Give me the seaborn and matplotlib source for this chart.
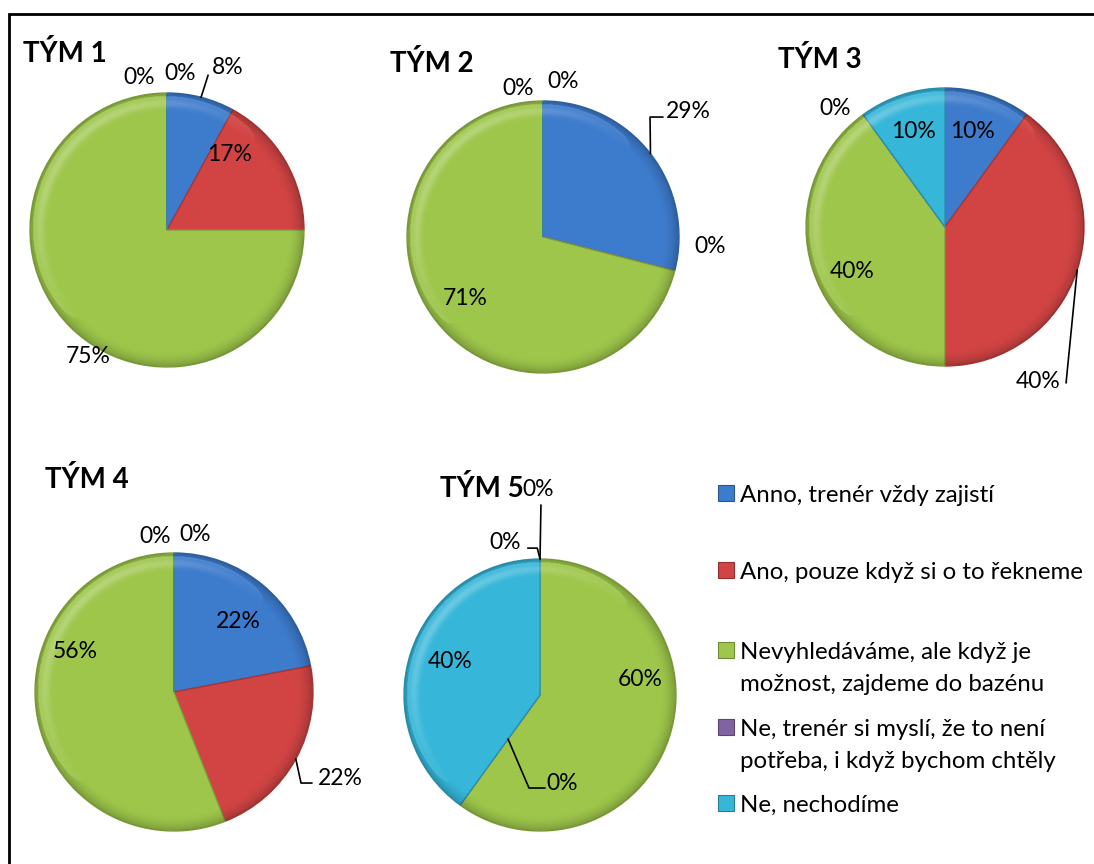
import numpy as np
import matplotlib
matplotlib.use("Agg")
import matplotlib.pyplot as plt
from matplotlib.patches import Rectangle, Circle
import matplotlib.colors as mcolors
import seaborn as sns

# ---- data -------------------------------------------------------------
teams = ["TÝM 1", "TÝM 2", "TÝM 3", "TÝM 4", "TÝM 5"]
categories = [
    "Anno, trenér vždy zajistí",
    "Ano, pouze když si o to řekneme",
    "Nevyhledáváme, ale když je\nmožnost, zajdeme do bazénu",
    "Ne, trenér si myslí, že to není\npotřeba, i když bychom chtěly",
    "Ne, nechodíme",
]
tym1 = [8, 17, 75, 0, 0]
tym2 = [29, 0, 71, 0, 0]
tym3 = [10, 40, 40, 0, 10]
tym4 = [22, 22, 56, 0, 0]
tym5 = [0, 0, 60, 0, 40]
team_values = [tym1, tym2, tym3, tym4, tym5]

# ---- style ------------------------------------------------------------
sns.set_theme(style="white")
plt.rcParams["font.family"] = ["Lato", "DejaVu Sans"]
palette = sns.color_palette(["#3d7bcc", "#d24444", "#9ec64b", "#8064a2", "#36b6d9"])

W, H, DPI = 1094, 864, 100
fig = plt.figure(figsize=(W / DPI, H / DPI), dpi=DPI)
fig.patch.set_facecolor("white")

LABEL_PT = 16.5
LEGEND_PT = 17.3
TITLE_PT = 20
CAP = 0.7165  # cap height of Lato relative to the em


def px_to_fig(x, y):
    return x / W, 1 - y / H


def fig_text(x, y_center, s, size, **kw):
    """Place text so that its capital letters are centred on y_center (pixels)."""
    cap_px = CAP * size * DPI / 72
    fx, fy = px_to_fig(x, y_center + cap_px / 2)
    fig.text(fx, fy, s, fontsize=size, va="baseline", **kw)


def darker(c, f=0.75):
    r, g, b = mcolors.to_rgb(c)
    return (r * f, g * f, b * f)


# soft bevel: darker towards the rim, lighter just inside it on the upper left
_g = np.linspace(-1, 1, 400)
_X, _Y = np.meshgrid(_g, _g)
_R = np.hypot(_X, _Y)
_rim = np.clip((_R - 0.88) / 0.12, 0, 1)
_light = np.clip(-(_X - _Y) / np.sqrt(2), 0, 1) * np.exp(-((_R - 0.93) / 0.035) ** 2)
bevel = np.zeros((400, 400, 4))
bevel[..., :3] = np.where(_light[..., None] > 0.15 * _rim[..., None] ** 2, 1.0, 0.0)
bevel[..., 3] = np.maximum(0.22 * _rim ** 2 * (1 - _light), 0.28 * _light)
bevel[_R > 1] = 0

# ---- layout -----------------------------------------------------------
# pie centre (x, y from top) and radius, in pixels
pie_geom = [(167, 230, 137), (543, 237, 136), (945, 227, 139),
            (174, 692, 139), (540, 695, 136)]
title_pos = [(23, 52), (390, 62), (778, 58), (45, 478), (440, 487)]
# label positions in units of pie radius, per wedge
label_pos = [
    [(0.445, 1.197), (0.46, 0.562), (-0.577, -0.912), (0.095, 1.153), (-0.204, 1.124)],
    [(1.066, 0.934), (1.228, -0.059), (-0.574, -0.441), (0.147, 1.154), (-0.184, 1.103)],
    [(0.201, 0.698), (0.669, -1.101), (-0.669, -0.309), (-0.791, 0.863), (-0.230, 0.698)],
    [(0.460, 0.518), (1.194, -0.612), (-0.712, 0.302), (0.151, 1.144), (-0.137, 1.129)],
    [(-0.015, 1.522), (-0.257, 1.132), (0.735, 0.125), (0.162, -0.640), (-0.662, 0.257)],
]
# leader lines: wedge index -> (start radius fraction, bend points)
leaders = [
    {0: (1.0, [(0.30, 1.13)])},
    {0: (1.0, [(0.787, 0.882), (0.882, 0.882)])},
    {1: (1.0, [(0.871, -1.122)])},
    {1: (1.0, [(0.914, -0.655), (0.993, -0.655)])},
    {0: (1.0, [(0.007, 1.397)]),
     1: (1.0, [(-0.02, 1.08), (-0.09, 1.08)]),
     3: (0.4, [(-0.081, -0.684), (0.037, -0.684)])},
]

LIM = 1.7
for k, values in enumerate(team_values):
    cx, cy, r = pie_geom[k]
    half = r * LIM
    ax = fig.add_axes([(cx - half) / W, 1 - (cy + half) / H, 2 * half / W, 2 * half / H])
    ax.axis("off")
    ax.patch.set_visible(False)

    wedges, _ = ax.pie(values, colors=palette, startangle=90, counterclock=False,
                       radius=1.0, wedgeprops=dict(linewidth=1.0))
    for w, c in zip(wedges, palette):
        w.set_edgecolor(darker(c, 0.8))
    img = ax.imshow(bevel, extent=(-1, 1, -1, 1), origin="lower", zorder=3,
                    interpolation="bilinear")
    img.set_clip_path(Circle((0, 0), 1.0, transform=ax.transData))
    ax.set_xlim(-LIM, LIM)
    ax.set_ylim(-LIM, LIM)
    ax.set_aspect("equal")

    total = sum(values)
    cum = 0.0
    for i, v in enumerate(values):
        mid = np.deg2rad(90 - 360 * (cum + v / 2) / total)
        cum += v
        lx, ly = label_pos[k][i]
        ax.annotate(f"{v}%", (lx, ly), xytext=(0, -CAP * LABEL_PT / 2),
                    textcoords="offset points", ha="center", va="baseline",
                    fontsize=LABEL_PT, color="black", annotation_clip=False,
                    zorder=5)
        if i in leaders[k]:
            rs, pts = leaders[k][i]
            xs = [rs * np.cos(mid)] + [p[0] for p in pts]
            ys = [rs * np.sin(mid)] + [p[1] for p in pts]
            ax.plot(xs, ys, color="black", lw=1.2, clip_on=False, zorder=5)

    tx, ty = title_pos[k]
    fig_text(tx, ty, teams[k], TITLE_PT, fontweight="bold", color="black")

# ---- legend -----------------------------------------------------------
legend_rows = [493, 570, 650, 727, 803]
LINE_GAP = 32
for cat, c, y in zip(categories, palette, legend_rows):
    sx, sy = px_to_fig(718, y + 8)
    fig.add_artist(Rectangle((sx, sy), 16 / W, 16 / H, transform=fig.transFigure,
                             facecolor=c, edgecolor=darker(c, 0.7), lw=0.8))
    for j, line in enumerate(cat.split("\n")):
        fig_text(740, y + j * LINE_GAP, line, LEGEND_PT, color="black")

# ---- outer frame ------------------------------------------------------
fx, fy = px_to_fig(9, 14)
fig.add_artist(Rectangle((fx, -0.1), 1.2, fy + 0.1, transform=fig.transFigure,
                         fill=False, edgecolor="black", lw=2))

fig.savefig("out.png", dpi=DPI, facecolor="white")
